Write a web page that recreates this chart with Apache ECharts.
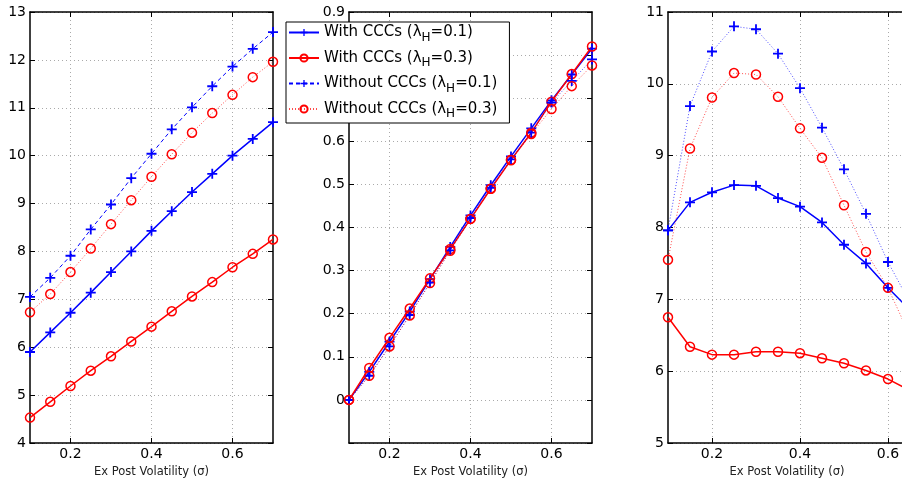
<!DOCTYPE html>
<html>
<head>
<meta charset="utf-8">
<script src="https://cdn.jsdelivr.net/npm/echarts@6/dist/echarts.min.js"></script>
<style>
html,body{margin:0;padding:0;background:#fff}
#chart{width:902px;height:480px}
</style>
</head>
<body>
<div id="chart"></div>
<script>
// Ex post volatility grid shared by all three panels
const volatility = [0.1, 0.15, 0.2, 0.25, 0.3, 0.35, 0.4, 0.45, 0.5, 0.55, 0.6, 0.65, 0.7];
const xTickValues = [0.2, 0.4, 0.6];
const seriesNames = ['With CCCs (λH=0.1)', 'With CCCs (λH=0.3)', 'Without CCCs (λH=0.1)', 'Without CCCs (λH=0.3)'];

// Left panel
const leftWith01 = [5.90, 6.31, 6.72, 7.14, 7.57, 8.00, 8.43, 8.84, 9.24, 9.62, 10.00, 10.35, 10.70];
const leftWith03 = [4.53, 4.86, 5.19, 5.51, 5.81, 6.12, 6.43, 6.75, 7.06, 7.36, 7.67, 7.95, 8.25];
const leftWithout01 = [7.05, 7.45, 7.91, 8.46, 8.98, 9.53, 10.04, 10.55, 11.01, 11.45, 11.86, 12.23, 12.58];
const leftWithout03 = [6.73, 7.11, 7.57, 8.06, 8.57, 9.07, 9.56, 10.03, 10.48, 10.89, 11.27, 11.64, 11.96];

// Middle panel
const midWith01 = [0, 0.065, 0.135, 0.205, 0.28, 0.355, 0.428, 0.498, 0.565, 0.63, 0.695, 0.755, 0.815];
const midWith03 = [0, 0.074, 0.144, 0.212, 0.282, 0.35, 0.42, 0.49, 0.557, 0.62, 0.692, 0.756, 0.82];
const midWithout01 = [0, 0.056, 0.124, 0.197, 0.272, 0.347, 0.422, 0.492, 0.558, 0.62, 0.69, 0.74, 0.79];
const midWithout03 = [0, 0.056, 0.124, 0.196, 0.271, 0.346, 0.42, 0.49, 0.556, 0.617, 0.675, 0.728, 0.776];

// Right panel
const rightWith01 = [7.96, 8.35, 8.49, 8.59, 8.58, 8.41, 8.29, 8.07, 7.76, 7.50, 7.16, 6.85, 6.55];
const rightWith03 = [6.75, 6.34, 6.23, 6.23, 6.27, 6.27, 6.25, 6.18, 6.11, 6.01, 5.89, 5.73, 5.55];
const rightWithout01 = [7.96, 9.69, 10.45, 10.80, 10.76, 10.42, 9.94, 9.39, 8.81, 8.19, 7.52, 6.95, 6.40];
const rightWithout03 = [7.55, 9.10, 9.81, 10.15, 10.13, 9.82, 9.38, 8.97, 8.31, 7.66, 7.16, 6.49, 5.90];

const BLUE = '#0000ff';
const RED = '#ff0000';
const FONT = 'DejaVu Sans';

const plusPath = 'path://M-0.18,-1 L0.18,-1 L0.18,-0.18 L1,-0.18 L1,0.18 L0.18,0.18 L0.18,1 L-0.18,1 L-0.18,0.18 L-1,0.18 L-1,-0.18 L-0.18,-0.18 Z';

const grids = [
  { left: 30, top: 12, width: 243, height: 431, outerBoundsMode: 'none', containLabel: false },
  { left: 349, top: 12, width: 243, height: 431, outerBoundsMode: 'none', containLabel: false },
  { left: 668, top: 12, width: 264, height: 431, outerBoundsMode: 'none', containLabel: false }
];
const yRanges = [
  { min: 4, max: 13, interval: 1 },
  { min: -0.1, max: 0.9, interval: 0.1 },
  { min: 5, max: 11, interval: 1 }
];
const panelData = [
  [leftWith01, leftWith03, leftWithout01, leftWithout03],
  [midWith01, midWith03, midWithout01, midWithout03],
  [rightWith01, rightWith03, rightWithout01, rightWithout03]
];

const frameLine = { show: true, onZero: false, lineStyle: { color: '#000', width: 1.5 } };
const gridLine = { show: true, lineStyle: { color: '#aaa', type: [1, 3], width: 1 } };

const xAxes = [];
const yAxes = [];
grids.forEach((g, i) => {
  xAxes.push({
    type: 'value', gridIndex: i, position: 'bottom', min: 0.1, max: 0.7,
    name: 'Ex Post Volatility (σ)', nameLocation: 'middle', nameGap: 13,
    nameTextStyle: { fontFamily: FONT, fontSize: 11.5, color: '#222', padding: i === 2 ? [0, 26, 0, 0] : 0 },
    axisLine: frameLine,
    axisTick: { show: true, inside: true, length: 5, customValues: xTickValues, lineStyle: { color: '#000' } },
    axisLabel: { customValues: xTickValues, margin: 4, fontFamily: FONT, fontSize: 14, color: '#000' },
    splitLine: gridLine
  });
  yAxes.push({
    type: 'value', gridIndex: i, position: 'left',
    min: yRanges[i].min, max: yRanges[i].max, interval: yRanges[i].interval,
    axisLine: frameLine,
    axisTick: { show: true, inside: true, length: 5, lineStyle: { color: '#000' } },
    axisLabel: {
      margin: 4, fontFamily: FONT, fontSize: 14, color: '#000',
      formatter: v => (v < -0.05 ? '' : String(+v.toFixed(1)))
    },
    splitLine: gridLine
  });
});
// Mirrored top and right axes carry the inward ticks on the other sides of each box
grids.forEach((g, i) => {
  xAxes.push({
    type: 'value', gridIndex: i, position: 'top', min: 0.1, max: 0.7,
    axisLine: frameLine,
    axisTick: { show: true, inside: true, length: 5, customValues: xTickValues, lineStyle: { color: '#000' } },
    axisLabel: { show: false }, splitLine: { show: false }
  });
  yAxes.push({
    type: 'value', gridIndex: i, position: 'right',
    min: yRanges[i].min, max: yRanges[i].max, interval: yRanges[i].interval,
    axisLine: frameLine,
    axisTick: { show: true, inside: true, length: 5, lineStyle: { color: '#000' } },
    axisLabel: { show: false }, splitLine: { show: false }
  });
});

const styles = [
  { color: BLUE, symbol: plusPath, size: 10, line: 'solid', width: 1.5, opacity: 1 },
  { color: RED, symbol: 'circle', size: 9, line: 'solid', width: 1.5, opacity: 1 },
  { color: BLUE, symbol: plusPath, size: 10, line: [1, 2], width: 1, opacity: 0.7 },
  { color: RED, symbol: 'circle', size: 9, line: [1, 2], width: 1, opacity: 0.7 }
];

const series = [];
panelData.forEach((arrs, p) => {
  arrs.forEach((vals, k) => {
    const st = styles[k];
    const isPlus = st.symbol !== 'circle';
    let lineType = st.line;
    if (p === 0 && k === 2) lineType = [4, 3];
    series.push({
      name: seriesNames[k],
      type: 'line',
      xAxisIndex: p, yAxisIndex: p,
      data: volatility.map((x, j) => [x, vals[j]]),
      symbol: st.symbol,
      symbolSize: st.size,
      showAllSymbol: true,
      animation: false,
      clip: true,
      lineStyle: { color: st.color, width: st.width, type: lineType, opacity: p === 0 && k === 2 ? 1 : st.opacity },
      itemStyle: isPlus
        ? { color: st.color, borderWidth: 0 }
        : { color: 'rgba(0,0,0,0)', borderColor: st.color, borderWidth: 1.5 },
      emphasis: { disabled: true }
    });
  });
});

const chart = echarts.init(document.getElementById('chart'), null, { renderer: 'canvas' });
chart.setOption({
  animation: false,
  backgroundColor: '#fff',
  grid: grids,
  xAxis: xAxes,
  yAxis: yAxes,
  legend: {
    data: seriesNames,
    orient: 'vertical',
    left: 286, top: 22,
    itemWidth: 30, itemHeight: 9, itemGap: 7,
    padding: [3, 12, 3, 2],
    borderColor: '#000', borderWidth: 1,
    backgroundColor: '#fff',
    z: 10,
    selectedMode: false,
    formatter: name => name.replace('λH', 'λ{s|H}'),
    textStyle: {
      fontFamily: FONT, fontSize: 15, color: '#000',
      rich: { s: { fontFamily: FONT, fontSize: 12, color: '#000', padding: [10, 0, 0, 0] } }
    }
  },
  series: series
});
</script>
</body>
</html>
